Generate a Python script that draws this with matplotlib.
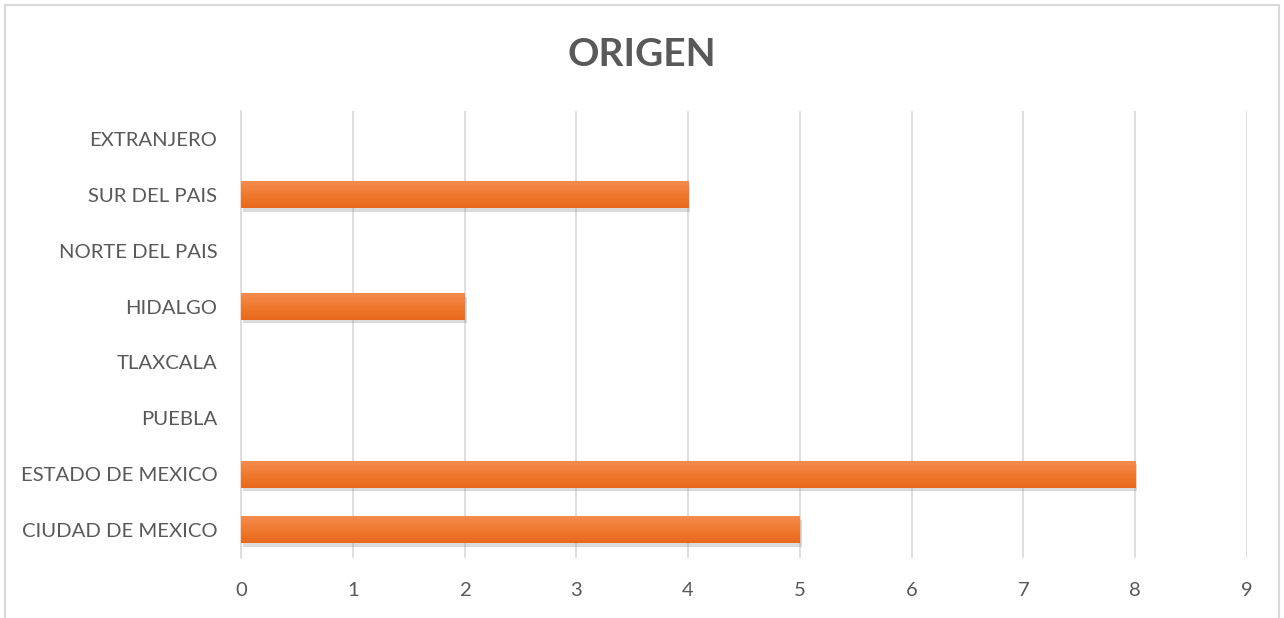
import numpy as np
import matplotlib.pyplot as plt
import matplotlib.patheffects as pe
from matplotlib.lines import Line2D
from matplotlib.colors import LinearSegmentedColormap

categories = ['CIUDAD DE MEXICO', 'ESTADO DE MEXICO', 'PUEBLA', 'TLAXCALA',
              'HIDALGO', 'NORTE DEL PAIS', 'SUR DEL PAIS', 'EXTRANJERO']
values = [5, 8, 0, 0, 2, 0, 4, 0]
xticks = list(range(10))

plt.rcParams['font.family'] = ['Lato', 'DejaVu Sans']
txt = '#595959'
grid = '#D9D9D9'

fig = plt.figure(figsize=(12.84, 6.18), dpi=100)
ax = fig.add_axes([0.1877, 0.0971, 0.7835, 0.7233])

ypos = np.arange(len(categories))
bh = 0.48
bars = ax.barh(ypos, values, height=bh, color='#ED7D31', zorder=3,
               path_effects=[pe.SimplePatchShadow(offset=(1.5, -2.5), shadow_rgbFace='#8a8a8a', alpha=0.3),
                             pe.Normal()])

# vertical gradient on each bar, lighter at the top
grad = np.linspace(0, 1, 64).reshape(-1, 1)
cmap = LinearSegmentedColormap.from_list('o', ['#F48B4E', '#EF7A2E', '#E8691C'])
for b, v in zip(bars, values):
    if v > 0:
        y0 = b.get_y()
        ax.imshow(grad, extent=(0, v, y0, y0 + bh), aspect='auto', cmap=cmap,
                  zorder=4, origin='upper')

ax.set_xlim(0, 9)
ax.set_ylim(-0.5, len(categories) - 0.5)
ax.set_xticks(xticks)
ax.set_yticks(ypos)
ax.set_yticklabels(categories)
ax.tick_params(axis='both', length=0, labelsize=14.6, labelcolor=txt)
ax.tick_params(axis='x', pad=17)
ax.tick_params(axis='y', pad=17)
ax.grid(axis='x', color=grid, linewidth=1.2, zorder=0)
for s in ['top', 'right', 'bottom']:
    ax.spines[s].set_visible(False)
ax.spines['left'].set_color(grid)
ax.spines['left'].set_linewidth(1.2)

fig.text(0.5, 0.912, 'ORIGEN', ha='center', va='center', fontsize=28,
         fontweight='bold', color=txt)

# chart border
x0, x1, yt = 5 / 1284, 1279 / 1284, 1 - 5 / 618
fig.add_artist(Line2D([x0, x1], [yt, yt], color=grid, linewidth=1.5))
fig.add_artist(Line2D([x0, x0], [0, yt], color=grid, linewidth=1.5))
fig.add_artist(Line2D([x1, x1], [0, yt], color=grid, linewidth=1.5))

fig.savefig('out.png', dpi=100)
